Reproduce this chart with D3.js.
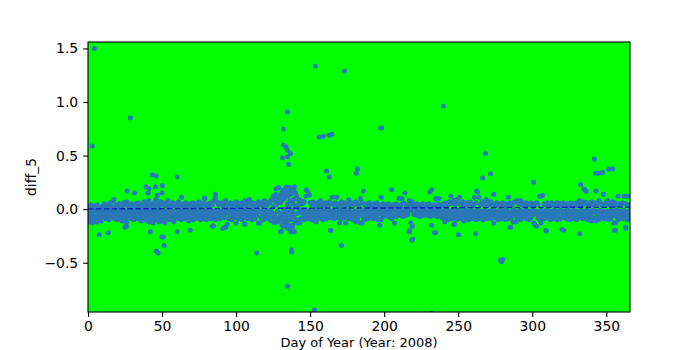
<!DOCTYPE html>
<html>
<head>
<meta charset="utf-8">
<script src="https://cdn.jsdelivr.net/npm/d3@7"></script>
<style>
  body { margin: 0; background: #fff; }
  text { font-family: "DejaVu Sans", sans-serif; }
</style>
</head>
<body>
<svg></svg>
<script>
// Chart size and plot area margins
const width = 700, height = 350, margin = { top: 42, right: 70, bottom: 38, left: 88 };

// Band samples, one value per day of year (day = index, 0..366)
const bandHigh = [
  0.03, 0.02, 0.04, 0.01, 0.03, 0.02, 0.04, 0.00, 0.02, 0.01,
  0.03, 0.05, 0.02, 0.04, 0.01, 0.06, 0.03, 0.08, 0.02, 0.04,
  0.01, 0.05, 0.03, 0.02, 0.06, 0.04, 0.07, 0.03, 0.01, 0.05,
  0.04, 0.02, 0.05, 0.03, 0.06, 0.01, 0.04, 0.02, 0.07, 0.03,
  0.05, 0.08, 0.02, 0.04, 0.06, 0.03, 0.09, 0.05, 0.02, 0.07,
  0.04, 0.06, 0.03, 0.05, 0.08, 0.02, 0.04, 0.06, 0.03, 0.05,
  0.02, 0.07, 0.04, 0.03, 0.05, 0.01, 0.06, 0.04, 0.02, 0.05,
  0.03, 0.06, 0.04, 0.02, 0.05, 0.07, 0.03, 0.04, 0.06, 0.10,
  0.03, 0.05, 0.02, 0.06, 0.04, 0.08, 0.11, 0.07, 0.04, 0.05,
  0.06, 0.03, 0.05, 0.08, 0.04, 0.02, 0.06, 0.03, 0.05, 0.04,
  0.07, 0.03, 0.05, 0.02, 0.06, 0.04, 0.08, 0.03, 0.05, 0.09,
  0.04, 0.06, 0.03, 0.05, 0.02, 0.07, 0.04, 0.06, 0.03, 0.08,
  0.05, 0.04, 0.07, 0.06, 0.09, 0.12, 0.08, 0.14, 0.11, 0.10,
  0.13, 0.16, 0.18, 0.15, 0.19, 0.14, 0.17, 0.20, 0.16, 0.19,
  0.15, 0.12, 0.09, 0.06, 0.08, 0.05, 0.07, 0.12, 0.17, 0.13,
  0.06, 0.04, 0.07, 0.05, 0.03, 0.06, 0.04, 0.08, 0.05, 0.03,
  0.06, 0.04, 0.02, 0.07, 0.05, 0.11, 0.04, 0.06, 0.11, 0.03,
  0.05, 0.07, 0.04, 0.06, 0.03, 0.05, 0.09, 0.04, 0.06, 0.05,
  0.04, 0.07, 0.05, 0.03, 0.10, 0.06, 0.17, 0.04, 0.05, 0.03,
  0.06, 0.04, 0.02, 0.05, 0.03, 0.06, 0.04, 0.02, 0.11, 0.05,
  0.03, 0.04, 0.02, 0.05, 0.03, 0.18, 0.04, 0.02, 0.05, 0.03,
  0.10, 0.04, 0.10, 0.06, 0.15, 0.04, 0.03, 0.08, 0.05, 0.07,
  0.04, 0.03, 0.05, 0.02, 0.04, 0.03, 0.05, 0.02, 0.04, 0.03,
  0.05, 0.16, 0.18, 0.04, 0.03, 0.10, 0.05, 0.10, 0.03, 0.04,
  0.05, 0.03, 0.06, 0.04, 0.07, 0.12, 0.05, 0.08, 0.04, 0.09,
  0.06, 0.11, 0.04, 0.07, 0.03, 0.05, 0.06, 0.04, 0.07, 0.05,
  0.03, 0.11, 0.06, 0.16, 0.11, 0.04, 0.07, 0.05, 0.03, 0.09,
  0.06, 0.04, 0.07, 0.05, 0.14, 0.03, 0.06, 0.04, 0.05, 0.03,
  0.06, 0.04, 0.05, 0.03, 0.11, 0.06, 0.04, 0.05, 0.07, 0.07,
  0.08, 0.05, 0.08, 0.04, 0.06, 0.03, 0.06, 0.05, 0.04, 0.06,
  0.05, 0.03, 0.05, 0.06, 0.04, 0.12, 0.12, 0.13, 0.05, 0.04,
  0.06, 0.03, 0.05, 0.06, 0.04, 0.05, 0.03, 0.06, 0.04, 0.05,
  0.03, 0.06, 0.04, 0.05, 0.02, 0.04, 0.06, 0.03, 0.05, 0.04,
  0.06, 0.03, 0.08, 0.05, 0.04, 0.07, 0.05, 0.06, 0.04, 0.05,
  0.07, 0.04, 0.06, 0.17, 0.05, 0.08, 0.06, 0.04, 0.14, 0.05,
  0.06, 0.08, 0.04, 0.05, 0.07, 0.03, 0.06, 0.04, 0.12, 0.05,
  0.04, 0.06, 0.12, 0.05, 0.12, 0.04, 0.03
];

const bandMid = [
  -0.04, -0.06, -0.02, -0.05, -0.03, -0.07, -0.01, -0.05, -0.03, -0.06,
  -0.02, -0.04, -0.01, -0.03, -0.05, -0.02, -0.04, -0.01, -0.03, -0.05,
  -0.02, -0.04, 0.00, -0.03, -0.01, -0.04, -0.02, -0.05, -0.03, -0.01,
  -0.04, -0.02, -0.03, -0.01, -0.04, -0.02, -0.05, -0.03, -0.01, -0.04,
  -0.02, -0.03, -0.05, -0.01, -0.04, -0.02, -0.03, -0.05, -0.01, -0.03,
  -0.04, -0.02, -0.03, -0.05, -0.01, -0.03, -0.04, -0.02, -0.03, -0.05,
  -0.01, -0.03, -0.04, -0.02, -0.03, -0.05, -0.01, -0.03, -0.02, -0.04,
  -0.03, -0.01, -0.04, -0.02, -0.03, -0.05, -0.02, -0.03, -0.01, -0.04,
  -0.02, -0.03, -0.05, -0.01, -0.03, -0.04, -0.02, -0.03, -0.01, -0.04,
  -0.02, -0.03, -0.05, -0.01, -0.03, -0.02, -0.04, -0.01, -0.03, -0.02,
  -0.04, -0.01, -0.03, -0.02, -0.05, -0.01, -0.03, -0.04, -0.02, -0.03,
  -0.01, -0.04, -0.02, -0.03, -0.05, -0.01, -0.03, -0.02, -0.04, -0.01,
  -0.03, -0.02, -0.04, -0.01, -0.03, 0.02, -0.05, 0.04, -0.02, 0.06,
  -0.04, 0.08, -0.06, 0.10, -0.03, 0.12, -0.05, 0.07, -0.04, 0.09,
  0.02, -0.04, 0.01, -0.03, -0.02, -0.04, -0.01, -0.03, -0.02, -0.04,
  -0.01, -0.03, -0.05, -0.02, -0.01, -0.04, -0.02, -0.03, -0.01, -0.05,
  -0.02, -0.04, -0.01, -0.03, -0.02, -0.05, -0.01, -0.03, -0.04, -0.02,
  -0.01, -0.03, -0.05, -0.02, -0.04, -0.01, -0.03, -0.02, -0.05, -0.03,
  -0.02, -0.04, -0.01, -0.03, -0.05, -0.02, -0.01, -0.04, -0.02, -0.03,
  -0.01, -0.05, -0.02, -0.04, -0.01, -0.03, -0.02, -0.04, -0.03, -0.01,
  0.00, -0.02, 0.01, -0.01, -0.02, 0.00, -0.01, 0.01, -0.02, 0.00,
  -0.01, 0.01, -0.02, 0.00, -0.01, 0.01, -0.02, 0.00, -0.01, 0.01,
  -0.02, 0.00, -0.01, 0.01, -0.02, 0.00, -0.01, 0.01, -0.02, 0.00,
  -0.01, 0.01, -0.02, 0.00, -0.01, 0.01, -0.02, 0.00, -0.01, -0.03,
  -0.02, -0.04, -0.01, -0.03, -0.02, -0.04, -0.01, -0.03, -0.02, -0.04,
  -0.01, -0.03, -0.05, -0.02, -0.04, -0.01, -0.03, -0.02, -0.05, -0.01,
  -0.03, -0.04, -0.02, -0.01, -0.05, -0.03, -0.02, -0.04, -0.01, -0.03,
  -0.05, -0.02, -0.03, -0.01, -0.04, -0.02, -0.05, -0.03, -0.01, -0.04,
  -0.02, -0.03, -0.01, -0.05, -0.02, -0.04, -0.03, -0.01, -0.04, -0.02,
  -0.03, -0.05, -0.01, -0.02, -0.04, -0.03, -0.01, -0.05, -0.02, -0.03,
  -0.04, -0.01, -0.03, -0.05, -0.02, -0.04, -0.01, -0.03, -0.02, -0.05,
  -0.01, -0.04, -0.02, -0.03, -0.05, -0.01, -0.03, -0.04, -0.02, -0.01,
  -0.03, -0.05, -0.02, -0.04, -0.01, -0.03, -0.02, -0.05, -0.01, -0.04,
  -0.02, -0.03, -0.05, -0.01, -0.04, -0.02, -0.03, -0.01, -0.05, -0.02,
  -0.04, -0.01, -0.03, -0.02, -0.05, -0.03, -0.01, -0.04, -0.02, -0.03,
  -0.05, -0.02, -0.04, -0.01, -0.03, -0.02, -0.05, -0.01, -0.04, -0.03,
  -0.02, -0.04, -0.01, -0.03, -0.05, -0.02, -0.03
];

const bandLow = [
  -0.10, -0.12, -0.08, -0.13, -0.11, -0.09, -0.12, -0.07, -0.10, -0.11,
  -0.08, -0.06, -0.09, -0.07, -0.10, -0.05, -0.08, -0.06, -0.09, -0.07,
  -0.10, -0.06, -0.08, -0.11, -0.07, -0.09, -0.16, -0.08, -0.06, -0.09,
  -0.07, -0.10, -0.08, -0.06, -0.09, -0.07, -0.11, -0.08, -0.06, -0.10,
  -0.08, -0.12, -0.07, -0.09, -0.13, -0.08, -0.10, -0.06, -0.12, -0.09,
  -0.11, -0.07, -0.13, -0.09, -0.08, -0.10, -0.06, -0.09, -0.12, -0.07,
  -0.09, -0.06, -0.08, -0.10, -0.07, -0.09, -0.06, -0.08, -0.11, -0.07,
  -0.08, -0.10, -0.06, -0.09, -0.07, -0.08, -0.10, -0.06, -0.09, -0.07,
  -0.10, -0.08, -0.06, -0.09, -0.16, -0.07, -0.10, -0.08, -0.06, -0.09,
  -0.07, -0.18, -0.08, -0.17, -0.14, -0.09, -0.07, -0.10, -0.06, -0.08,
  -0.13, -0.07, -0.09, -0.06, -0.10, -0.08, -0.14, -0.07, -0.09, -0.06,
  -0.08, -0.10, -0.07, -0.09, -0.06, -0.13, -0.13, -0.08, -0.10, -0.07,
  -0.09, -0.06, -0.08, -0.10, -0.11, -0.07, -0.13, -0.09, -0.12, -0.10,
  -0.21, -0.14, -0.11, -0.16, -0.12, -0.18, -0.10, -0.21, -0.15, -0.21,
  -0.12, -0.10, -0.13, -0.13, -0.09, -0.07, -0.10, -0.08, -0.06, -0.09,
  -0.07, -0.10, -0.06, -0.08, -0.12, -0.07, -0.09, -0.06, -0.08, -0.10,
  -0.07, -0.09, -0.06, -0.08, -0.20, -0.07, -0.09, -0.06, -0.08, -0.07,
  -0.13, -0.09, -0.06, -0.08, -0.13, -0.07, -0.09, -0.06, -0.08, -0.10,
  -0.07, -0.12, -0.09, -0.06, -0.13, -0.13, -0.08, -0.10, -0.07, -0.09,
  -0.06, -0.08, -0.07, -0.09, -0.06, -0.08, -0.10, -0.15, -0.10, -0.07,
  -0.05, -0.06, -0.04, -0.07, -0.05, -0.09, -0.06, -0.13, -0.07, -0.05,
  -0.04, -0.06, -0.05, -0.07, -0.04, -0.06, -0.05, -0.20, -0.13, -0.16,
  -0.05, -0.04, -0.06, -0.05, -0.07, -0.04, -0.06, -0.05, -0.04, -0.06,
  -0.05, -0.07, -0.15, -0.06, -0.22, -0.05, -0.07, -0.06, -0.05, -0.08,
  -0.09, -0.12, -0.07, -0.10, -0.08, -0.06, -0.09, -0.14, -0.07, -0.10,
  -0.08, -0.06, -0.09, -0.07, -0.11, -0.08, -0.06, -0.10, -0.07, -0.09,
  -0.06, -0.08, -0.10, -0.07, -0.09, -0.06, -0.08, -0.10, -0.07, -0.09,
  -0.08, -0.06, -0.09, -0.07, -0.13, -0.08, -0.06, -0.10, -0.07, -0.09,
  -0.06, -0.08, -0.10, -0.07, -0.09, -0.17, -0.08, -0.12, -0.06, -0.12,
  -0.09, -0.07, -0.10, -0.08, -0.06, -0.08, -0.09, -0.07, -0.10, -0.08,
  -0.06, -0.13, -0.15, -0.16, -0.08, -0.10, -0.13, -0.07, -0.09, -0.20,
  -0.08, -0.06, -0.10, -0.07, -0.09, -0.08, -0.06, -0.10, -0.07, -0.09,
  -0.19, -0.08, -0.06, -0.09, -0.07, -0.10, -0.08, -0.06, -0.09, -0.07,
  -0.10, -0.08, -0.23, -0.07, -0.09, -0.06, -0.08, -0.10, -0.07, -0.10,
  -0.11, -0.08, -0.10, -0.11, -0.07, -0.10, -0.06, -0.08, -0.09, -0.07,
  -0.08, -0.10, -0.07, -0.09, -0.06, -0.13, -0.20, -0.07, -0.10, -0.08,
  -0.06, -0.09, -0.07, -0.17, -0.10, -0.08, -0.06
];

// Extra points around the spring cluster (day, value)
const clusterDays = [127, 128.8, 134, 136, 139.4, 138, 132, 135.5, 137, 133, 140.5, 131, 136.5, 138.5, 134.5, 130, 141, 142,
  133.5, 135.5, 138, 136.8, 140, 131.5, 129, 143.5, 147.3, 149.5, 148,
  133, 135, 136, 134, 137.5, 131, 139, 132.5, 136, 138, 130.5, 134.8];
const clusterVals = [0.19, 0.20, 0.21, 0.20, 0.21, 0.18, 0.15, 0.16, 0.14, 0.11, 0.13, 0.09, 0.08, 0.05, 0.03, 0.06, 0.10, 0.04,
  -0.13, -0.15, -0.17, -0.10, -0.12, -0.16, -0.08, -0.10, 0.18, 0.134, 0.17,
  -0.05, -0.06, -0.03, -0.08, -0.06, -0.04, -0.07, 0.00, 0.02, -0.01, -0.09, 0.05];

// Scattered outliers (day, value)
const outlierDays = [2.9, 4.3, 28.6, 43.5, 46.1, 60.3, 39.2, 41.2, 45.5, 50.2, 40.5, 50, 46.8, 26.4, 31.5, 17.6, 63.2,
  7.6, 13.7, 47.3, 46.2, 49.8, 50.9, 51.4, 42.1, 60.3, 25.0, 26,
  78.6, 86, 69.1, 84.7, 105.9, 113.9,
  153.6, 173.2, 240, 134.7, 132, 156.1, 159, 162.8, 164.6, 197.7, 198.4, 132, 133.8, 134.7, 136.7, 131.3, 134.7, 135.4, 161, 163, 182, 181.3,
  137.4, 137.6, 134.7, 152.9, 171.1, 163.7, 130.8, 139.4, 218.7, 219.2, 217, 234.7, 232, 142.8, 141.7,
  268.5, 266.5, 271.8, 300.9, 332.6, 334.7, 342, 342.8, 344.8, 347.5, 351.6, 354.3, 335.4, 336.5, 347.9, 262.4, 273.9,
  250.2, 261.7, 278.6, 280, 279.3, 309.5, 321.2, 355.6, 363, 285.4, 247.5, 356.3];
const outlierVals = [0.59, 1.50, 0.85, 0.32, 0.31, 0.30, 0.21, 0.19, 0.21, 0.22, 0.15, 0.15, 0.13, 0.17, 0.15, 0.09, 0.11,
  -0.24, -0.22, -0.41, -0.39, -0.26, -0.26, -0.34, -0.21, -0.21, -0.17, -0.125,
  0.105, 0.14, -0.196, -0.156, -0.137, -0.41,
  1.336, 1.29, 0.963, 0.906, 0.748, 0.673, 0.68, 0.69, 0.70, 0.757, 0.757, 0.598, 0.58, 0.55, 0.52, 0.477, 0.49, 0.42, 0.355, 0.30, 0.374, 0.336,
  -0.38, -0.40, -0.72, -0.94, -0.34, -0.196, -0.206, -0.21, -0.29, -0.28, -0.21, -0.22, -0.97, -0.125, -0.125,
  0.52, 0.29, 0.33, 0.25, 0.23, 0.19, 0.467, 0.336, 0.336, 0.345, 0.374, 0.374, 0.18, 0.165, 0.14, 0.17, 0.14,
  -0.24, -0.23, -0.48, -0.47, -0.49, -0.205, -0.196, -0.196, -0.18, -0.17, -0.14, -0.13];

// Dashed trend line end points
const trendDays = [0, 366];
const trendVals = [0.002, 0.019];

const xTicks = [0, 50, 100, 150, 200, 250, 300, 350];
const yTicks = [-0.5, 0.0, 0.5, 1.0, 1.5];

// Collect every point into one list
const points = [];
[bandHigh, bandMid, bandLow].forEach(band => band.forEach((v, i) => points.push({ day: i, value: v })));
clusterDays.forEach((d, i) => points.push({ day: d, value: clusterVals[i] }));
outlierDays.forEach((d, i) => points.push({ day: d, value: outlierVals[i] }));

const svg = d3.select("svg")
    .attr("width", width)
    .attr("height", height);

const x = d3.scaleLinear().domain([0, 366]).range([margin.left, width - margin.right]);
const y = d3.scaleLinear().domain([-0.96, 1.56]).range([height - margin.bottom, margin.top]);

const plotW = width - margin.left - margin.right;
const plotH = height - margin.top - margin.bottom;

// Green plot background
svg.append("rect")
    .attr("x", margin.left).attr("y", margin.top)
    .attr("width", plotW).attr("height", plotH)
    .attr("fill", "#00ff00");

svg.append("clipPath").attr("id", "plot-clip")
  .append("rect")
    .attr("x", margin.left).attr("y", margin.top)
    .attr("width", plotW).attr("height", plotH);

const plot = svg.append("g").attr("clip-path", "url(#plot-clip)");

plot.selectAll("circle")
    .data(points)
    .enter()
    .append("circle")
    .attr("cx", d => x(d.day))
    .attr("cy", d => y(d.value))
    .attr("r", 2.5)
    .attr("fill", "#2a78b8");

// Trend line on top of the points
plot.append("line")
    .attr("x1", x(trendDays[0])).attr("y1", y(trendVals[0]))
    .attr("x2", x(trendDays[1])).attr("y2", y(trendVals[1]))
    .attr("stroke", "#1020c8")
    .attr("stroke-width", 1.4)
    .attr("stroke-dasharray", "5.5,2.4");

// Axes
const xAxis = svg.append("g")
    .attr("transform", `translate(0, ${height - margin.bottom})`)
    .call(d3.axisBottom(x).tickValues(xTicks).tickSize(4.9).tickPadding(4.2).tickFormat(d3.format("d")));

const yAxis = svg.append("g")
    .attr("transform", `translate(${margin.left}, 0)`)
    .call(d3.axisLeft(y).tickValues(yTicks).tickSize(4.9).tickPadding(4.9).tickFormat(d3.format(".1f")));

[xAxis, yAxis].forEach(g => {
    g.select(".domain").remove();
    g.selectAll(".tick line").attr("stroke", "#000").attr("stroke-width", 1.1);
    g.selectAll(".tick text")
        .attr("fill", "#000")
        .style("font-family", "'DejaVu Sans', sans-serif")
        .style("font-size", "13.9px");
});

// Frame around the plot
svg.append("rect")
    .attr("x", margin.left).attr("y", margin.top)
    .attr("width", plotW).attr("height", plotH)
    .attr("fill", "none")
    .attr("stroke", "#000")
    .attr("stroke-width", 1.1);

// Axis labels (x label squeezed in between the tick labels and the bottom edge)
svg.append("text")
    .attr("x", (margin.left + width - margin.right) / 2)
    .attr("y", 347)
    .attr("text-anchor", "middle")
    .style("font-size", "13px")
    .text("Day of Year (Year: 2008)");

svg.append("text")
    .attr("transform", `translate(36, ${(margin.top + height - margin.bottom) / 2}) rotate(-90)`)
    .attr("text-anchor", "middle")
    .style("font-size", "13.9px")
    .text("diff_5");
</script>
</body>
</html>
